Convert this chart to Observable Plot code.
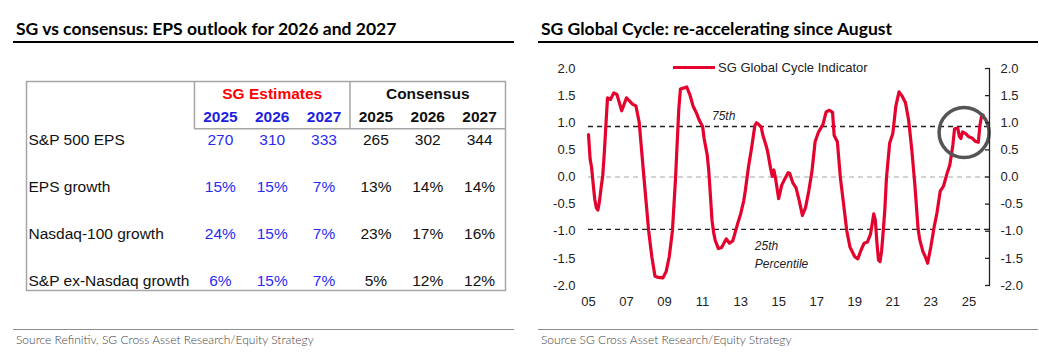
<!DOCTYPE html>
<html><head><meta charset="utf-8">
<script src="https://cdn.jsdelivr.net/npm/d3@7"></script>
<script src="https://cdn.jsdelivr.net/npm/@observablehq/plot@0.6"></script>
<style>
html,body{margin:0;padding:0;background:#fff;}
body{width:1039px;height:352px;position:relative;overflow:hidden;font-family:"Liberation Sans",Arial,sans-serif;}
.title{position:absolute;top:18px;font-family:Lato,sans-serif;font-weight:700;font-size:17.5px;line-height:22px;color:#000;white-space:nowrap;}
.uline{position:absolute;top:41px;height:2px;background:#000;}
.fline{position:absolute;top:329px;height:1px;background:#8c8c8c;}
.src{position:absolute;top:332px;font-family:Lato,sans-serif;font-weight:300;font-size:12px;line-height:15px;color:#444;white-space:nowrap;}
#left{position:absolute;left:0;top:50px;}
#right{position:absolute;left:520px;top:50px;}
.legend{position:absolute;left:673px;top:59px;height:16px;display:flex;align-items:center;font-family:"Liberation Sans",Arial,sans-serif;font-size:13px;color:#222;white-space:nowrap;}
.legend .sw{width:42px;height:3px;background:#e4032e;margin-right:3px;}
</style>
</head><body>
<div class="title" style="left:16px">SG vs consensus: EPS outlook for 2026 and 2027</div>
<div class="uline" style="left:13px;width:501px"></div>
<div class="title" style="left:541px">SG Global Cycle: re-accelerating since August</div>
<div class="uline" style="left:538px;width:500px"></div>
<div id="left"></div>
<div id="right"></div>
<div class="legend"><span class="sw"></span><span id="legendText"></span></div>
<div class="fline" style="left:13px;width:501px"></div>
<div class="src" style="left:16px">Source Refinitiv, SG Cross Asset Research/Equity Strategy</div>
<div class="fline" style="left:538px;width:500px"></div>
<div class="src" style="left:541px">Source SG Cross Asset Research/Equity Strategy</div>
<script>
// ---------- Table data (left panel) ----------
const rowLabels = ["S&P 500 EPS", "EPS growth", "Nasdaq-100 growth", "S&P ex-Nasdaq growth"];
const groupLabels = ["SG Estimates", "Consensus"];
const yearLabels = ["2025", "2026", "2027"];
const sgValues = [
  ["270", "310", "333"],
  ["15%", "15%", "7%"],
  ["24%", "15%", "7%"],
  ["6%", "15%", "7%"]
];
const consensusValues = [
  ["265", "302", "344"],
  ["13%", "14%", "14%"],
  ["23%", "17%", "16%"],
  ["5%", "12%", "12%"]
];

// ---------- Line chart data (right panel) ----------
const seriesName = "SG Global Cycle Indicator";
const cycleMonths = [
  "2005-01","2005-02","2005-03","2005-04","2005-05","2005-06","2005-07","2005-08","2005-09","2005-10","2005-11","2005-12",
  "2006-01","2006-03","2006-05","2006-07","2006-10",
  "2007-01","2007-05","2007-07","2007-09","2007-12",
  "2008-03","2008-05","2008-07","2008-09","2008-12",
  "2009-02","2009-04","2009-06","2009-08","2009-09","2009-10","2009-11",
  "2010-02","2010-03","2010-05","2010-07","2010-09","2010-11",
  "2011-01","2011-02","2011-04","2011-05","2011-06","2011-07","2011-08","2011-09","2011-11",
  "2012-01","2012-04","2012-06","2012-08","2012-09","2012-11",
  "2013-01","2013-03","2013-04","2013-06","2013-08","2013-10","2013-11","2013-12",
  "2014-02","2014-03","2014-05","2014-06","2014-08","2014-09","2014-10","2014-11",
  "2015-01","2015-03","2015-05","2015-07","2015-08","2015-10","2015-12",
  "2016-02","2016-04","2016-06","2016-08","2016-10","2016-12",
  "2017-02","2017-05","2017-07","2017-09","2017-11","2017-12",
  "2018-02","2018-04","2018-06","2018-08","2018-10",
  "2019-01","2019-03","2019-05","2019-07","2019-09","2019-11",
  "2020-01","2020-02","2020-03","2020-04","2020-05","2020-06","2020-07","2020-08","2020-09","2020-11",
  "2021-01","2021-03","2021-05","2021-07","2021-09","2021-11",
  "2022-01","2022-03","2022-05","2022-06","2022-08","2022-10","2022-11",
  "2023-01","2023-03","2023-05","2023-07","2023-09","2023-11",
  "2024-01","2024-03","2024-04","2024-06","2024-07","2024-08","2024-09","2024-11",
  "2025-01","2025-03","2025-05","2025-07","2025-08","2025-09","2025-10"
];
const cycleValues = [
  0.78,0.33,0.18,-0.13,-0.41,-0.57,-0.61,-0.44,-0.19,0.02,0.45,0.95,
  1.46,1.43,1.55,1.52,1.22,
  1.46,1.34,1.31,1.01,0.00,
  -0.99,-1.47,-1.83,-1.85,-1.86,
  -1.74,-1.47,-0.99,0.00,0.65,1.25,1.62,
  1.65,1.66,1.52,1.31,1.19,1.04,
  0.93,0.70,0.40,0.10,-0.35,-0.80,-1.02,-1.17,-1.32,
  -1.30,-1.14,-1.22,-1.18,-1.08,-0.87,
  -0.68,-0.44,-0.25,0.19,0.55,0.95,1.00,0.98,
  0.92,0.78,0.59,0.48,0.15,0.01,0.13,-0.02,
  -0.40,-0.15,-0.03,0.08,0.07,-0.11,-0.20,
  -0.44,-0.71,-0.56,-0.26,0.10,0.65,
  0.82,0.97,1.20,1.23,1.19,0.77,
  0.65,-0.02,-0.50,-0.99,-1.29,
  -1.47,-1.51,-1.35,-1.22,-1.20,-1.05,
  -0.68,-0.80,-1.20,-1.53,-1.56,-1.35,-1.00,-0.60,-0.02,0.62,
  0.80,1.31,1.57,1.49,1.37,1.05,
  0.50,-0.15,-0.95,-1.15,-1.37,-1.50,-1.59,
  -1.29,-0.95,-0.65,-0.26,-0.17,0.04,
  0.22,0.60,0.89,0.90,0.75,0.71,0.83,0.80,
  0.74,0.72,0.66,0.64,0.95,1.12,1.14
];
const percentileLevels = [0.93, -0.965];           // 75th and 25th percentile
const percentileNotes = [
  {month: "2011-07", value: 1.15, text: "75th"},
  {month: "2013-10", value: -1.41, text: "25th\nPercentile"}
];
const highlight = [{month: "2024-10", value: 0.82}];
const yTicks = [-2, -1.5, -1, -0.5, 0, 0.5, 1, 1.5, 2];
const xTickYears = [2005, 2007, 2009, 2011, 2013, 2015, 2017, 2019, 2021, 2023, 2025];
const xDomain = ["2005-01", "2026-02"];

// ---------- Left panel: table ----------
const parseMonth = d3.utcParse("%Y-%m");
const cells = [];
rowLabels.forEach((label, r) => {
  sgValues[r].forEach((v, k) => cells.push({row: r, col: k, text: v, sg: true}));
  consensusValues[r].forEach((v, k) => cells.push({row: r, col: 3 + k, text: v, sg: false}));
});
const rowCells = rowLabels.map((label, r) => ({row: r, text: label}));
const yearCells = groupLabels.flatMap((g, gi) => yearLabels.map((y, k) => ({col: gi * 3 + k, text: y, sg: gi === 0})));
const groupCells = groupLabels.map((g, gi) => ({col: gi * 3 + 1, text: g, sg: gi === 0}));
const grey = "#a6a6a6";

const left = Plot.plot({
  width: 520, height: 250,
  marginLeft: 26, marginRight: 15, marginTop: 31, marginBottom: 10,
  x: {domain: [-3.74, 5.5], axis: null},
  y: {domain: [-1.26, 3.21], reverse: true, axis: null},
  style: {fontFamily: "'Liberation Sans', Arial, sans-serif", fontSize: "15.5px", background: "#fff"},
  marks: [
    Plot.frame({stroke: grey, strokeWidth: 1.5}),
    Plot.ruleX([-0.5, 2.5], {y1: -1.26, y2: -0.25, stroke: grey, strokeWidth: 1.5}),
    Plot.ruleY([-0.25], {x1: -0.5, x2: 5.5, stroke: grey, strokeWidth: 1.5}),
    Plot.text(groupCells.filter(d => d.sg), {x: "col", y: () => -1, text: "text", fill: "#ff0000", fontWeight: "bold"}),
    Plot.text(groupCells.filter(d => !d.sg), {x: "col", y: () => -1, text: "text", fill: "#111", fontWeight: "bold"}),
    Plot.text(yearCells.filter(d => d.sg), {x: "col", y: () => -0.5, text: "text", fill: "#1f1fe0", fontWeight: "bold"}),
    Plot.text(yearCells.filter(d => !d.sg), {x: "col", y: () => -0.5, text: "text", fill: "#111", fontWeight: "bold"}),
    Plot.text(rowCells, {y: "row", text: "text", frameAnchor: "left", textAnchor: "start", dx: 2, fill: "#111"}),
    Plot.text(cells.filter(d => d.sg), {x: "col", y: "row", text: "text", fill: "#2b2bf0"}),
    Plot.text(cells.filter(d => !d.sg), {x: "col", y: "row", text: "text", fill: "#111"})
  ]
});
document.getElementById("left").append(left);

// ---------- Right panel: line chart ----------
const cycle = cycleMonths.map((m, i) => ({date: parseMonth(m), value: cycleValues[i]}));
const notes = percentileNotes.map(d => ({...d, date: parseMonth(d.month)}));
const circ = highlight.map(d => ({...d, date: parseMonth(d.month)}));
const xTicks = xTickYears.map(y => new Date(Date.UTC(y, 0, 1)));
const xEnd = parseMonth(xDomain[1]);
const fmt = d => d.toFixed(1);

const right = Plot.plot({
  width: 519, height: 270,
  marginLeft: 68, marginRight: 50, marginTop: 18, marginBottom: 35,
  x: {type: "utc", domain: [parseMonth(xDomain[0]), xEnd], label: null},
  y: {domain: [-2, 2], label: null},
  style: {fontFamily: "'Liberation Sans', Arial, sans-serif", fontSize: "13px", color: "#222", background: "#fff"},
  marks: [
    Plot.ruleY([0], {stroke: "#c4c4c4", strokeWidth: 1.5, strokeDasharray: "5,4"}),
    Plot.ruleY(percentileLevels, {stroke: "#222", strokeWidth: 1.4, strokeDasharray: "5,4"}),
    Plot.line(cycle, {x: "date", y: "value", stroke: "#e4032e", strokeWidth: 3.2, strokeLinejoin: "round"}),
    Plot.dot(circ, {x: "date", y: "value", r: 25, stroke: "#555", strokeWidth: 3.5, fill: "none"}),
    Plot.text(notes, {x: "date", y: "value", text: "text", textAnchor: "start", fontStyle: "italic", fontSize: 12, lineHeight: 1.5, fill: "#222"}),
    Plot.ruleX([xEnd], {y1: -2, y2: 2, stroke: "#222", strokeWidth: 1.3}),
    Plot.axisX({ticks: xTicks, tickFormat: d3.utcFormat("%y"), tickSize: 0, tickPadding: 11, fontSize: 13, color: "#222", label: null}),
    Plot.axisY({anchor: "left", ticks: yTicks, tickFormat: fmt, tickSize: 0, tickPadding: 13, fontSize: 13, color: "#222", label: null}),
    Plot.axisY({anchor: "right", ticks: yTicks, tickFormat: fmt, tickSize: -5, tickPadding: 16, fontSize: 13, color: "#222", strokeWidth: 1.3, label: null})
  ]
});
document.getElementById("right").append(right);
document.getElementById("legendText").textContent = seriesName;
</script>
</body></html>
